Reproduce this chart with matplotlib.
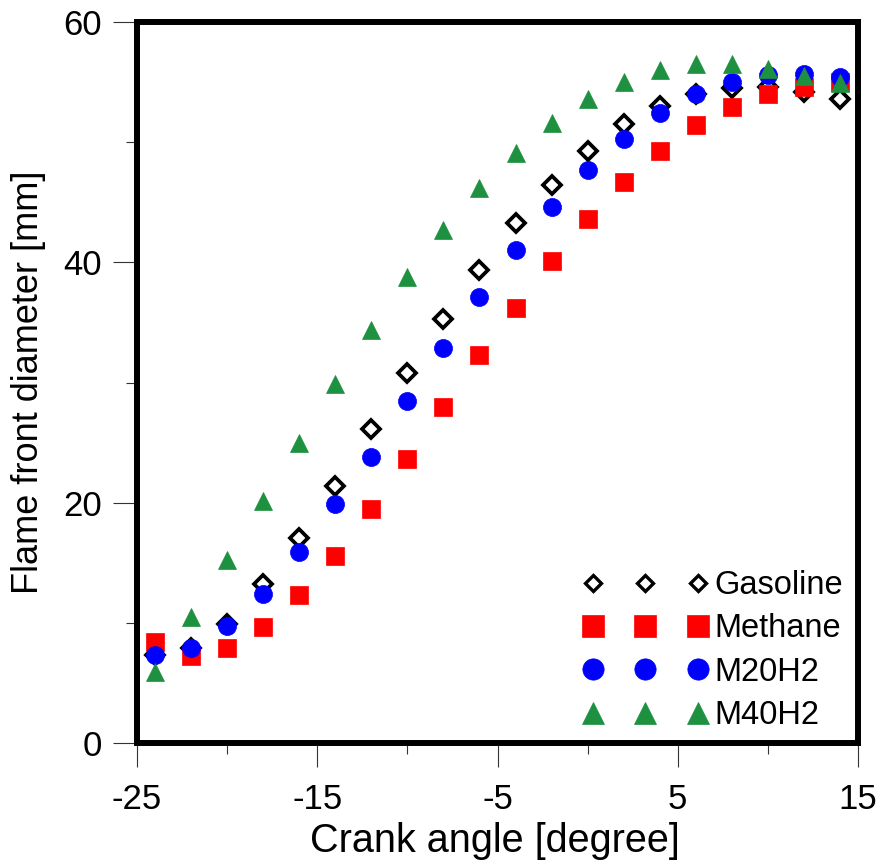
import matplotlib
matplotlib.use("Agg")
import matplotlib.pyplot as plt
import numpy as np

crank_angle = [-24, -22, -20, -18, -16, -14, -12, -10, -8, -6, -4, -2, 0, 2, 4, 6, 8, 10, 12, 14]
gasoline = [7.3, 7.9, 9.9, 13.2, 17.1, 21.4, 26.1, 30.8, 35.3, 39.4, 43.3, 46.4, 49.3, 51.5, 53.0, 54.0, 54.5, 54.6, 54.2, 53.6]
methane  = [8.4, 7.2, 7.9, 9.65, 12.3, 15.6, 19.5, 23.6, 27.95, 32.3, 36.2, 40.1, 43.6, 46.7, 49.3, 51.4, 52.9, 54.0, 54.6, 55.0]
m20h2    = [7.3, 7.9, 9.7, 12.4, 15.9, 19.9, 23.8, 28.5, 32.9, 37.1, 41.0, 44.6, 47.7, 50.3, 52.4, 54.0, 55.0, 55.6, 55.7, 55.4]
m40h2    = [5.9, 10.5, 15.2, 20.1, 25.0, 29.9, 34.4, 38.8, 42.7, 46.2, 49.1, 51.6, 53.6, 55.0, 56.0, 56.5, 56.5, 56.1, 55.5, 54.9]
labels = ["Gasoline", "Methane", "M20H2", "M40H2"]
xticks = [-25, -15, -5, 5, 15]
yticks = [0, 20, 40, 60]

plt.rcParams['font.family'] = ['Liberation Sans', 'DejaVu Sans']

fig = plt.figure(figsize=(8.83, 8.67), dpi=100)
ax = fig.add_axes([137/883, 1-743/867, (858-137)/883, (743-22)/867])

ax.plot(crank_angle, gasoline, ls='none', marker='D', ms=9.4, mfc='white', mec='black', mew=2.7, label=labels[0])
ax.plot(crank_angle, methane, ls='none', marker='s', ms=13, mfc='#ff0000', mec='#ff0000', mew=0.5, label=labels[1])
ax.plot(crank_angle, m20h2, ls='none', marker='o', ms=13, mfc='#0000ff', mec='#0000ff', mew=0.5, label=labels[2])
ax.plot(crank_angle, m40h2, ls='none', marker='^', ms=13, mfc='#1e9140', mec='#1e9140', mew=0.5, label=labels[3])

ax.set_xlim(-25, 15)
ax.set_ylim(0, 60)
ax.set_xticks(xticks)
ax.set_xticklabels([str(t) for t in xticks])
ax.set_xticks([-20, -10, 0, 10], minor=True)
ax.set_yticks(yticks)
ax.set_yticklabels([str(t) for t in yticks])
ax.set_yticks([10, 30, 50], minor=True)

for s in ax.spines.values():
    s.set_linewidth(4.3)
ax.tick_params(axis='both', which='major', direction='out', length=17.5, width=0.8, color='#333333')
ax.tick_params(axis='both', which='minor', direction='out', length=8, width=0.8, color='#333333')
ax.tick_params(axis='x', which='major', labelsize=25, pad=11)
ax.tick_params(axis='y', which='major', labelsize=25, pad=8)

ax.set_xlabel("Crank angle [degree]", fontsize=28.5)
ax.xaxis.label.set_va('baseline')
ax.xaxis.set_label_coords(0.496, (743-852)/721)
ax.set_ylabel("Flame front diameter [mm]", fontsize=26, labelpad=12)

leg = ax.legend(loc='upper left', bbox_to_anchor=(583/883, 1-570/867), bbox_transform=fig.transFigure,
                frameon=False, numpoints=3, fontsize=23.5, handlelength=3.82, handletextpad=0.2,
                labelspacing=0.38, borderpad=0, borderaxespad=0, markerscale=1.18)
handles = leg.legend_handles
handles[0].set_markersize(8.2)
handles[0].set_markeredgewidth(2.4)

fig.savefig("out.png", dpi=100)
